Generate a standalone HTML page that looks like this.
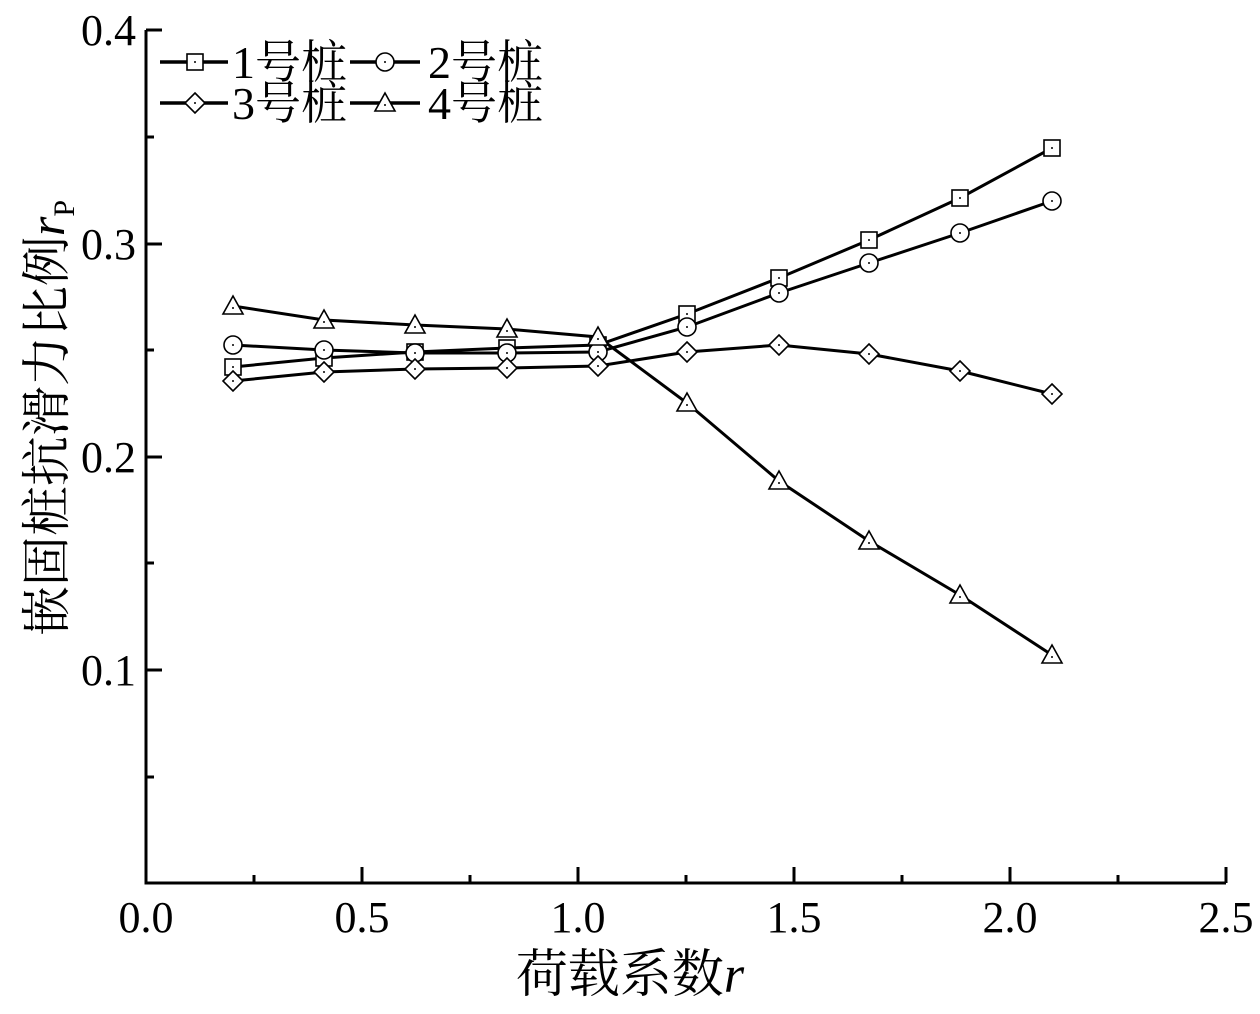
<!DOCTYPE html>
<html><head><meta charset="utf-8"><style>body{margin:0;background:#fff}</style></head><body>
<svg width="1260" height="1009" viewBox="0 0 1260 1009" xmlns="http://www.w3.org/2000/svg" font-family="Liberation Serif, Noto Serif CJK SC, serif">
<rect width="1260" height="1009" fill="#fff"/>
<g stroke="#000" stroke-width="3" fill="none">
<path d="M146 30 V883 H1226"/>
<path d="M362 883v-16M578 883v-16M794 883v-16M1010 883v-16M1226 883v-16 M254 883v-8M470 883v-8M686 883v-8M902 883v-8M1118 883v-8"/>
<path d="M146 670h16M146 457h16M146 244h16M146 30h16M146 777h8M146 563h8M146 350h8M146 137h8"/>
</g>
<g font-size="44" fill="#000">
<text x="136" y="685" text-anchor="end">0.1</text>
<text x="136" y="472" text-anchor="end">0.2</text>
<text x="136" y="259" text-anchor="end">0.3</text>
<text x="136" y="45" text-anchor="end">0.4</text>
<text x="146" y="932" text-anchor="middle">0.0</text>
<text x="362" y="932" text-anchor="middle">0.5</text>
<text x="578" y="932" text-anchor="middle">1.0</text>
<text x="794" y="932" text-anchor="middle">1.5</text>
<text x="1010" y="932" text-anchor="middle">2.0</text>
<text x="1226" y="932" text-anchor="middle">2.5</text>
</g>
<text x="630" y="992" text-anchor="middle" font-size="52">荷载系数<tspan font-style="italic">r</tspan></text>
<text transform="translate(64,418) rotate(-90)" text-anchor="middle" font-size="50">嵌固桩抗滑力比例<tspan font-style="italic">r</tspan><tspan font-size="30" dy="10">P</tspan></text>
<g stroke="#000" stroke-width="3" fill="none">
<polyline points="233,367 324,358 415,352 507,348 598,345 687,314 779,278 869,240 960,198 1052,148"/>
<polyline points="233,345 324,350 415,353 507,353 598,352 687,327 779,293 869,263 960,233 1052,201"/>
<polyline points="233,381 324,372 415,369 507,368 598,366 687,352 779,345 869,354 960,371 1052,394"/>
<polyline points="233,306 324,320 415,325 507,329 598,337 687,403 779,481 869,541 960,595 1052,655"/>
<path d="M160 62h68M160 103h68M350 62h70M350 103h70" stroke-width="3.5"/>
</g>
<defs>
<g id="sq"><rect x="-8" y="-8" width="16" height="16" fill="#fff" stroke="#000" stroke-width="1.6"/><circle r="1" fill="#000"/></g>
<g id="ci"><circle r="9" fill="#fff" stroke="#000" stroke-width="1.6"/><circle r="1" fill="#000"/></g>
<g id="di"><path d="M0 -10L10 0L0 10L-10 0Z" fill="#fff" stroke="#000" stroke-width="1.6"/><circle r="1" fill="#000"/></g>
<g id="tr"><path d="M0 -10L10 8H-10Z" fill="#fff" stroke="#000" stroke-width="1.6"/><circle cy="2" r="1" fill="#000"/></g>
</defs>
<use href="#sq" x="233" y="367"/><use href="#sq" x="324" y="358"/><use href="#sq" x="415" y="352"/><use href="#sq" x="507" y="348"/><use href="#sq" x="598" y="345"/><use href="#sq" x="687" y="314"/><use href="#sq" x="779" y="278"/><use href="#sq" x="869" y="240"/><use href="#sq" x="960" y="198"/><use href="#sq" x="1052" y="148"/>
<use href="#ci" x="233" y="345"/><use href="#ci" x="324" y="350"/><use href="#ci" x="415" y="353"/><use href="#ci" x="507" y="353"/><use href="#ci" x="598" y="352"/><use href="#ci" x="687" y="327"/><use href="#ci" x="779" y="293"/><use href="#ci" x="869" y="263"/><use href="#ci" x="960" y="233"/><use href="#ci" x="1052" y="201"/>
<use href="#di" x="233" y="381"/><use href="#di" x="324" y="372"/><use href="#di" x="415" y="369"/><use href="#di" x="507" y="368"/><use href="#di" x="598" y="366"/><use href="#di" x="687" y="352"/><use href="#di" x="779" y="345"/><use href="#di" x="869" y="354"/><use href="#di" x="960" y="371"/><use href="#di" x="1052" y="394"/>
<use href="#tr" x="233" y="306"/><use href="#tr" x="324" y="320"/><use href="#tr" x="415" y="325"/><use href="#tr" x="507" y="329"/><use href="#tr" x="598" y="337"/><use href="#tr" x="687" y="403"/><use href="#tr" x="779" y="481"/><use href="#tr" x="869" y="541"/><use href="#tr" x="960" y="595"/><use href="#tr" x="1052" y="655"/>
<use href="#sq" x="195" y="62"/><use href="#ci" x="385" y="62"/><use href="#di" x="195" y="103"/><use href="#tr" x="385" y="103"/>
<g font-size="46" fill="#000">
<text x="232" y="78">1号桩</text><text x="428" y="78">2号桩</text>
<text x="232" y="119">3号桩</text><text x="428" y="119">4号桩</text>
</g>
</svg>
</body></html>
